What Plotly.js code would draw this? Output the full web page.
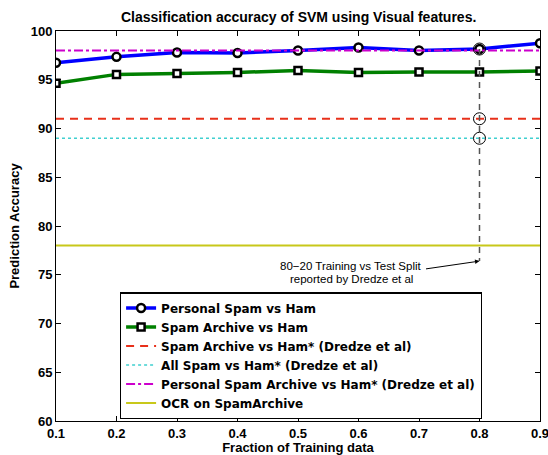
<!DOCTYPE html>
<html><head><meta charset="utf-8">
<script src="https://cdn.plot.ly/plotly-3.0.1.min.js"></script>
<style>body{margin:0;padding:0;background:#fff}#chart{width:548px;height:455px}</style>
</head><body><div id="chart"></div>
<script>
const fractions = [0.1,0.2,0.3,0.4,0.5,0.6,0.7,0.8,0.9];
const personalSpam = [96.75,97.35,97.8,97.75,98.0,98.3,98.0,98.15,98.75];
const spamArchive = [94.65,95.55,95.65,95.75,95.95,95.75,95.8,95.8,95.9];
const dredzeSpamArchive = 91;
const dredzeAllSpam = 89;
const dredzePersonal = 98;
const ocrSpamArchive = 78;
const splitX = 0.8;
const splitLineY = [98.15, 76.4];
const splitCircleY = [98.15, 91, 89];
const noteLines = ['80\u221220 Training vs Test Split', 'reported by Dredze et al'];
const xRange = [0.1, 0.9];
const xTicks = [0.1,0.2,0.3,0.4,0.5,0.6,0.7,0.8,0.9];
const yTicks = [60,65,70,75,80,85,90,95,100];

const F = 'Liberation Sans, Arial, Helvetica, sans-serif';
const FL = 'DejaVu Sans, Liberation Sans, sans-serif';
const flat = v => xRange.map(() => v);

const traces = [
  {x: fractions, y: personalSpam, name: 'Personal Spam vs Ham', mode: 'lines+markers',
   line: {color: '#0000ff', width: 3.5},
   marker: {symbol: 'circle', size: 8, color: '#ffffff', line: {color: '#000000', width: 2.5}}},
  {x: fractions, y: spamArchive, name: 'Spam Archive vs Ham', mode: 'lines+markers',
   line: {color: '#008000', width: 3.5},
   marker: {symbol: 'square', size: 7, color: '#ffffff', line: {color: '#000000', width: 2.5}}},
  {x: xRange, y: flat(dredzeSpamArchive), name: 'Spam Archive vs Ham* (Dredze et al)', mode: 'lines',
   line: {color: '#e8301a', width: 2, dash: '8px,6px'}},
  {x: xRange, y: flat(dredzeAllSpam), name: 'All Spam vs Ham* (Dredze et al)', mode: 'lines',
   line: {color: '#40d0d0', width: 1.5, dash: 'dot'}},
  {x: xRange, y: flat(dredzePersonal), name: 'Personal Spam Archive vs Ham* (Dredze et al)', mode: 'lines',
   line: {color: '#cc00cc', width: 2, dash: 'dashdot'}},
  {x: xRange, y: flat(ocrSpamArchive), name: 'OCR on SpamArchive', mode: 'lines',
   line: {color: '#c8c81a', width: 2}},
  {x: [splitX, splitX], y: splitLineY, mode: 'lines', showlegend: false, hoverinfo: 'skip',
   line: {color: '#555555', width: 1.5, dash: '6px,5px'}},
  {x: splitCircleY.map(() => splitX), y: splitCircleY, mode: 'markers', showlegend: false, hoverinfo: 'skip',
   marker: {symbol: 'circle-open', size: 12, color: '#000000', line: {color: '#000000', width: 1}}}
];

const layout = {
  width: 548, height: 455,
  margin: {l: 56, r: 8, t: 31, b: 34, pad: 0},
  paper_bgcolor: '#ffffff', plot_bgcolor: '#ffffff',
  font: {family: F, size: 12, color: '#000000'},
  title: {text: 'Classification accuracy of SVM using Visual features.', x: 0.545, xanchor: 'center', y: 0.962, yanchor: 'middle',
          font: {family: F, size: 14, weight: 'bold', color: '#000'}},
  xaxis: {range: xRange, tickvals: xTicks, ticktext: xTicks.map(v => v.toFixed(1)), ticklabeloverflow: 'allow',
          ticks: 'inside', ticklen: 5, tickcolor: '#000', showline: true, linecolor: '#000', linewidth: 1, mirror: 'ticks',
          showgrid: false, zeroline: false, tickfont: {family: F, size: 13, weight: 'bold'},
          title: {text: 'Fraction of Training data', standoff: 2, font: {family: F, size: 13, weight: 'bold'}}},
  yaxis: {range: [60, 100], tickvals: yTicks, ticklabeloverflow: 'allow',
          ticks: 'inside', ticklen: 5, tickcolor: '#000', showline: true, linecolor: '#000', linewidth: 1, mirror: 'ticks',
          showgrid: false, zeroline: false, tickfont: {family: F, size: 13, weight: 'bold'},
          title: {text: 'Prediction Accuracy', standoff: 8, font: {family: F, size: 13, weight: 'bold'}}},
  legend: {x: 0.132, y: 0.167, xanchor: 'left', yanchor: 'middle', bgcolor: '#ffffff', bordercolor: '#000', borderwidth: 1.2,
           font: {family: FL, size: 12, weight: 'bold'}, tracegroupgap: 0, itemwidth: 30},
  annotations: [
    {x: splitX, y: 76.4, xref: 'x', yref: 'y', ax: -55, ay: 8,
     text: '', showarrow: true, arrowhead: 2, arrowsize: 0.9, arrowwidth: 1, arrowcolor: '#000'},
    {x: 0.5876, y: 75.2, xref: 'x', yref: 'y', yshift: 6.5, text: noteLines[0],
     showarrow: false, xanchor: 'center', yanchor: 'middle', font: {family: F, size: 11.5, color: '#000'}},
    {x: 0.5876, y: 75.2, xref: 'x', yref: 'y', yshift: -6.5, text: noteLines[1],
     showarrow: false, xanchor: 'center', yanchor: 'middle', font: {family: F, size: 11.5, color: '#000'}}
  ]
};
Plotly.newPlot('chart', traces, layout, {displayModeBar: false, staticPlot: true});
</script></body></html>
